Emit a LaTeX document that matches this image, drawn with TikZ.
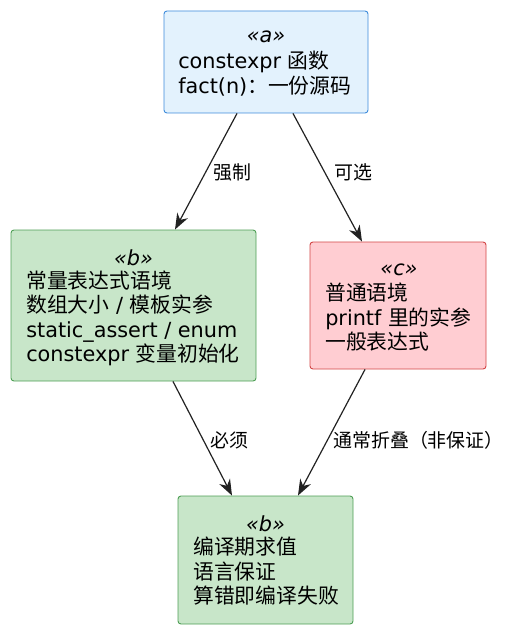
\documentclass[tikz,border=0pt]{standalone}
\usepackage{fontspec}
\setmainfont{DejaVu Sans}
\newfontfamily\cjk{Noto Sans CJK SC}
\newcommand\zh[1]{{\cjk #1}}
\usetikzlibrary{arrows.meta}
\definecolor{afill}{HTML}{E3F2FD}
\definecolor{adraw}{HTML}{3D8BDB}
\definecolor{bfill}{HTML}{C8E6C9}
\definecolor{bdraw}{HTML}{4E9F55}
\definecolor{cfill}{HTML}{FFCDD2}
\definecolor{cdraw}{HTML}{D24545}
\definecolor{lnk}{HTML}{222222}
\tikzset{
  box/.style={draw, line width=0.7pt, rounded corners=2.2pt, inner sep=0pt},
  abox/.style={box, fill=afill, draw=adraw},
  bbox/.style={box, fill=bfill, draw=bdraw},
  cbox/.style={box, fill=cfill, draw=cdraw},
  stereo/.style={inner sep=0pt, font=\fontsize{15.6pt}{18.4pt}\selectfont\itshape},
  body/.style={inner sep=0pt, anchor=west, align=left, font=\fontsize{15.6pt}{18.4pt}\selectfont},
  elabel/.style={inner sep=0pt, anchor=west, font=\fontsize{14.2pt}{16pt}\selectfont},
  link/.style={draw=lnk, line width=0.9pt, -{Stealth[length=12pt, width=9pt, inset=3.8pt]}},
}
\begin{document}
\begin{tikzpicture}[x=0.75pt, y=-0.75pt]
\useasboundingbox (0,0) rectangle (519,631);
% node a
\node[abox, minimum width=153pt, minimum height=76.5pt] (a) at (266,62) {};
\node[stereo] (as) at (266,37) {«a»};
\node[body] (ab) at (178,73.5) {constexpr \zh{函数}\\fact(n)\zh{：一份源码}};
% node b1
\node[bbox, minimum width=183.75pt, minimum height=113.25pt] (b1) at (133.5,305.5) {};
\node[stereo] (b1s) at (133.5,258) {«b»};
\node[body] (b1b) at (26,318.5) {\zh{常量表达式语境}\\\zh{数组大小} / \zh{模板实参}\\static\_assert / enum\\constexpr \zh{变量初始化}};
% node c
\node[cbox, minimum width=132pt, minimum height=95.25pt] (c) at (398,305.5) {};
\node[stereo] (cs) at (399,270) {«c»};
\node[body] (cb) at (325,317.5) {\zh{普通语境}\\printf \zh{里的实参}\\\zh{一般表达式}};
% node b2
\node[bbox, minimum width=131.25pt, minimum height=96pt] (b2) at (265.5,560) {};
\node[stereo] (b2s) at (265.5,524) {«b»};
\node[body] (b2b) at (193,571.5) {\zh{编译期求值}\\\zh{语言保证}\\\zh{算错即编译失败}};
% edges
\draw[link] ([xshift=-21.75pt]a.south) -- ([xshift=31.125pt]b1.north);
\draw[link] ([xshift=20.25pt]a.south) -- ([xshift=-27pt]c.north);
\draw[link] ([xshift=29.625pt]b1.south) -- ([xshift=-25.125pt]b2.north);
\draw[link] ([xshift=-24.75pt]c.south) -- ([xshift=24.375pt]b2.north);
% edge labels
\node[elabel] (l1) at (213,172) {\zh{强制}};
\node[elabel] (l2) at (334,172) {\zh{可选}};
\node[elabel] (l3) at (210,440) {\zh{必须}};
\node[elabel] (l4) at (333,440) {\zh{通常折叠（非保证）}};
\end{tikzpicture}
\end{document}
